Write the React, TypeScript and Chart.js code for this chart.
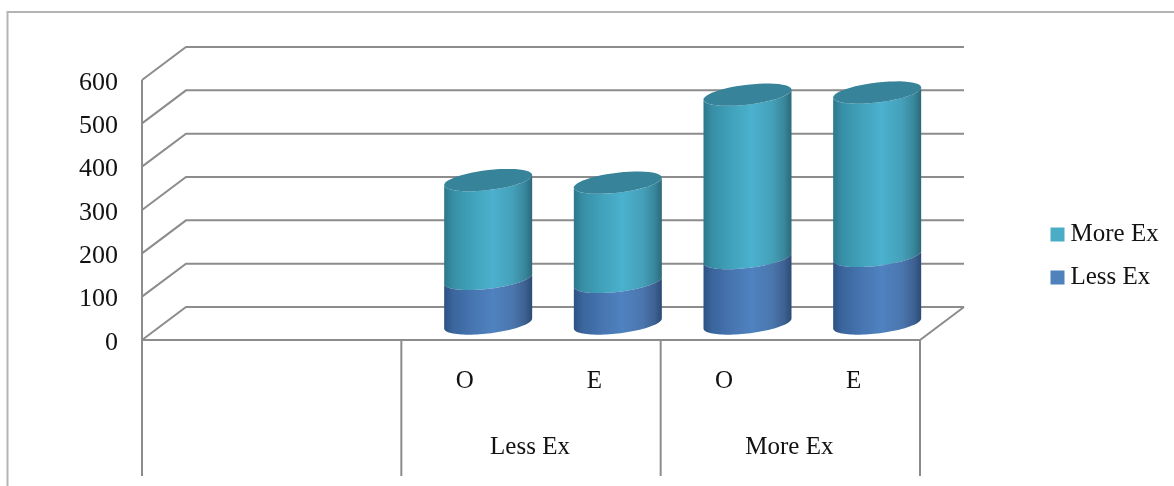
import React, { useEffect, useRef } from "react";
import { Chart, registerables } from "chart.js";

Chart.register(...registerables);

// Categories: the first two slots of the axis are an unlabelled, empty group.
const categories = ["", "", "O", "E", "O", "E"];
const groupLabels = ["", "Less Ex", "More Ex"];
const groupSpans = [2, 2, 2];

const lessEx = [null, null, 103, 96, 151, 156];
const moreEx = [null, null, 228, 229, 377, 377];

const SERIF = "'Liberation Serif', 'Times New Roman', serif";
const INK = "#121212";
const AXIS_GREY = "#8c8c8c";
const FRAME_GREY = "#b4b4b4";

// Oblique projection of the 3D box: how far the back wall sits from the front plane.
const DEPTH_X = 44;
const DEPTH_Y = 33;

// Shape of the cylinder cross-section (a sheared ellipse).
const ELLIPSE_TILT = 5;
const ELLIPSE_MINOR = 10;

type Stop = [number, string];
const bodyStops: Record<string, Stop[]> = {
  "Less Ex": [
    [0, "#2d5283"],
    [0.1, "#3a659d"],
    [0.32, "#4775b0"],
    [0.55, "#4f82c0"],
    [0.78, "#4b76ad"],
    [0.92, "#3d6192"],
    [1, "#2c4b76"],
  ],
  "More Ex": [
    [0, "#2d778b"],
    [0.1, "#378fa6"],
    [0.32, "#41a2bb"],
    [0.55, "#4bb1ce"],
    [0.78, "#45a0b9"],
    [0.92, "#38869b"],
    [1, "#2b697a"],
  ],
};
const CAP_COLOR = "#37839a";

function ellipsePoint(cx: number, cy: number, rx: number, t: number) {
  return [
    cx + rx * Math.cos(t),
    cy - ELLIPSE_TILT * Math.cos(t) + ELLIPSE_MINOR * Math.sin(t),
  ];
}

// Part of the cross-section, from t0 to t1 (0 = right tangent, PI = left tangent, via the front).
function traceArc(ctx: any, cx: number, cy: number, rx: number, t0: number, t1: number) {
  const steps = 48;
  for (let i = 0; i <= steps; i++) {
    const t = t0 + ((t1 - t0) * i) / steps;
    const [x, y] = ellipsePoint(cx, cy, rx, t);
    ctx.lineTo(x, y);
  }
}

// Walls, floor and the axis frame behind the bars.
const wallsPlugin = {
  id: "walls",
  beforeDatasetsDraw(chart: any) {
    const { ctx, scales, chartArea, width, height } = chart;
    const yScale = scales.y;
    const left = chartArea.left;
    const right = chartArea.right;
    const floor = yScale.getPixelForValue(0);
    const top = yScale.getPixelForValue(yScale.max);
    const axisBottom = 476;

    ctx.save();

    ctx.strokeStyle = FRAME_GREY;
    ctx.lineWidth = 2;
    ctx.beginPath();
    ctx.moveTo(7.5, height);
    ctx.lineTo(7.5, 12);
    ctx.lineTo(width, 12);
    ctx.stroke();

    ctx.strokeStyle = AXIS_GREY;
    ctx.lineWidth = 2;
    yScale.ticks.forEach((tick: any) => {
      const y = yScale.getPixelForValue(tick.value);
      ctx.beginPath();
      ctx.moveTo(left, y);
      ctx.lineTo(left + DEPTH_X, y - DEPTH_Y);
      ctx.lineTo(right + DEPTH_X, y - DEPTH_Y);
      ctx.stroke();
    });

    // Front edge of the floor and its right-hand side.
    ctx.beginPath();
    ctx.moveTo(left, floor);
    ctx.lineTo(right, floor);
    ctx.lineTo(right + DEPTH_X, floor - DEPTH_Y);
    ctx.stroke();

    // Value axis, running on down as the first separator of the category table.
    ctx.beginPath();
    ctx.moveTo(left, top);
    ctx.lineTo(left, axisBottom);
    ctx.stroke();

    // Separators between the category groups.
    const band = (right - left) / categories.length;
    let slot = 0;
    groupSpans.forEach((span) => {
      slot += span;
      const x = left + slot * band;
      ctx.beginPath();
      ctx.moveTo(x, floor);
      ctx.lineTo(x, axisBottom);
      ctx.stroke();
    });

    ctx.restore();
  },
};

// Group names on the second level of the category axis.
const groupLabelPlugin = {
  id: "groupLabels",
  afterDraw(chart: any) {
    const { ctx, chartArea } = chart;
    const band = (chartArea.right - chartArea.left) / categories.length;
    ctx.save();
    ctx.font = `25px ${SERIF}`;
    ctx.fillStyle = INK;
    ctx.textAlign = "center";
    ctx.textBaseline = "middle";
    let slot = 0;
    groupLabels.forEach((label, i) => {
      const mid = slot + groupSpans[i] / 2;
      ctx.fillText(label, chartArea.left + mid * band - 1, 447);
      slot += groupSpans[i];
    });
    ctx.restore();
  },
};

// Replaces the flat bars with stacked cylinders standing mid-way into the floor.
const cylinderPlugin = {
  id: "cylinders",
  beforeDatasetDraw(chart: any, args: any) {
    const { ctx } = chart;
    const meta = args.meta;
    const label = chart.data.datasets[args.index].label;
    const isTop = args.index === chart.data.datasets.length - 1;

    meta.data.forEach((bar: any, i: number) => {
      const value = chart.data.datasets[args.index].data[i];
      if (value == null) return;
      const props = bar.getProps(["x", "y", "base", "width"], true);
      const cx = props.x + DEPTH_X / 2;
      const rx = props.width / 2;
      const topY = props.y - DEPTH_Y / 2;
      const baseY = props.base - DEPTH_Y / 2;

      const gradient = ctx.createLinearGradient(cx - rx, 0, cx + rx, 0);
      bodyStops[label].forEach(([at, color]) => gradient.addColorStop(at, color));

      ctx.save();
      ctx.fillStyle = gradient;
      ctx.beginPath();
      // Down the left side along the lower arc, up the right, back along the upper arc.
      const [sx, sy] = ellipsePoint(cx, topY, rx, Math.PI);
      ctx.moveTo(sx, sy);
      traceArc(ctx, cx, baseY, rx, Math.PI, 0);
      traceArc(ctx, cx, topY, rx, 0, Math.PI);
      ctx.closePath();
      ctx.fill();

      if (isTop) {
        ctx.fillStyle = CAP_COLOR;
        ctx.beginPath();
        const [ex, ey] = ellipsePoint(cx, topY, rx, 0);
        ctx.moveTo(ex, ey);
        traceArc(ctx, cx, topY, rx, 0, Math.PI * 2);
        ctx.closePath();
        ctx.fill();
      }
      ctx.restore();
    });
    return false;
  },
};

// Moves the legend to its spot right of the plot, and nudges the axis labels into their seats.
const placementPlugin = {
  id: "placement",
  afterLayout(chart: any) {
    const legend = chart.legend;
    legend.left = 1039;
    legend.right = 1174;
    legend.top = 204;
    legend.bottom = 440;
  },
  beforeDraw(chart: any) {
    chart.scales.y.getLabelItems().forEach((item: any) => {
      item.options.translation[1] += 3;
    });
    chart.scales.x.getLabelItems().forEach((item: any) => {
      item.options.translation[0] -= 1.5;
    });
  },
};

export default function App() {
  const canvasRef = useRef<HTMLCanvasElement>(null);

  useEffect(() => {
    const chart = new Chart(canvasRef.current as HTMLCanvasElement, {
      type: "bar",
      data: {
        labels: categories,
        datasets: [
          { label: "Less Ex", data: lessEx, backgroundColor: "#4f81bd", borderWidth: 0 },
          { label: "More Ex", data: moreEx, backgroundColor: "#4bacc6", borderWidth: 0 },
        ],
      },
      options: {
        responsive: false,
        animation: false,
        layout: {
          autoPadding: false,
          padding: { left: 0, top: 80, right: 254, bottom: 0 },
        },
        datasets: {
          bar: { categoryPercentage: 1, barPercentage: 88 / 129.67 },
        },
        scales: {
          x: {
            stacked: true,
            grid: { display: false },
            border: { display: false },
            ticks: {
              autoSkip: false,
              maxRotation: 0,
              color: INK,
              padding: 18,
              font: { family: SERIF, size: 25 },
            },
            afterFit(scale: any) {
              scale.height = 146;
            },
          },
          y: {
            stacked: true,
            min: 0,
            max: 600,
            grid: { display: false },
            border: { display: false },
            ticks: {
              stepSize: 100,
              color: INK,
              padding: 16,
              font: { family: SERIF, size: 26 },
            },
            afterFit(scale: any) {
              scale.width = 142;
            },
          },
        },
        plugins: {
          tooltip: { enabled: false },
          legend: {
            position: "chartArea",
            align: "start",
            reverse: true,
            labels: {
              // A tiny box with a thick same-coloured stroke keeps the text close to the swatch.
              boxWidth: 1,
              boxHeight: 1,
              padding: 18,
              color: INK,
              font: { family: SERIF, size: 25 },
              generateLabels(chart: any) {
                return Chart.defaults.plugins.legend.labels
                  .generateLabels(chart)
                  .map((item: any) => ({ ...item, lineWidth: 13, strokeStyle: item.fillStyle }));
              },
            },
          },
        },
      } as any,
      plugins: [wallsPlugin, cylinderPlugin, groupLabelPlugin, placementPlugin],
    });
    return () => chart.destroy();
  }, []);

  return (
    <canvas
      ref={canvasRef}
      width={1174}
      height={486}
      style={{ position: "fixed", left: 0, top: 0, display: "block" }}
    />
  );
}
